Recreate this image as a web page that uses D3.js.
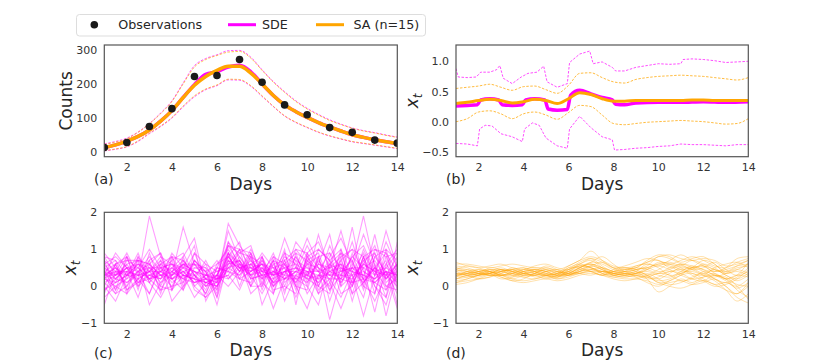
<!DOCTYPE html>
<html>
<head>
<meta charset="utf-8">
<script src="https://cdn.jsdelivr.net/npm/d3@7"></script>
<style>
  body { margin: 0; background: #fff; }
  svg { font-family: "DejaVu Sans", sans-serif; }
</style>
</head>
<body>
<div id="chart"></div>
<script>
// ---- data ----
var obsDays = [1, 2, 3, 4, 5, 6, 7, 8, 9, 10, 11, 12, 13, 14];
var obsCounts = [12, 27, 74, 127, 222, 225, 272, 205, 138, 109, 71, 57, 34, 25];

var halfDays = [1, 1.5, 2, 2.5, 3, 3.5, 4, 4.5, 5, 5.5, 6, 6.5, 7, 7.5, 8, 8.5, 9, 9.5, 10, 10.5, 11, 11.5, 12, 12.5, 13, 13.5, 14];

// panel (a): counts
var saMeanA  = [12, 20, 31, 45, 64, 90, 121, 160, 196, 222, 240, 252, 252, 232, 200, 166, 138, 118, 101, 86, 73, 61, 50, 42, 35, 29, 24];
var sdeMeanA = [12, 20, 31, 45, 64, 90, 121, 160, 198, 228, 236, 250, 255, 236, 200, 166, 138, 118, 101, 86, 73, 61, 50, 42, 35, 29, 24];
var saUpperA  = [21, 28, 38, 57, 82, 112, 148, 200, 250, 272, 284, 294, 296, 276, 240, 205, 175, 148, 126, 108, 92, 80, 69, 61, 55, 48, 42];
var sdeUpperA = [23, 30, 40, 58, 83, 114, 150, 203, 254, 275, 286, 298, 299, 279, 242, 207, 177, 150, 128, 110, 94, 81, 70, 62, 56, 49, 43];
var saLowerA  = [3, 8, 15, 32, 55, 76, 101, 135, 165, 185, 197, 214, 213, 195, 165, 134, 106, 87, 72, 58, 47, 38, 30, 25, 20, 15, 10];
var sdeLowerA = [2, 7, 14, 30, 53, 74, 99, 132, 162, 183, 195, 212, 211, 193, 163, 133, 105, 86, 71, 57, 46, 37, 29, 24, 19, 14, 9];

// panel (b): x_t summaries
var saMeanB  = [0.30, 0.32, 0.35, 0.37, 0.35, 0.31, 0.33, 0.37, 0.35, 0.30, 0.38, 0.48, 0.45, 0.38, 0.34, 0.34, 0.35, 0.35, 0.35, 0.35, 0.35, 0.36, 0.36, 0.35, 0.35, 0.35, 0.35];
var saUpperB = [0.55, 0.57, 0.59, 0.62, 0.57, 0.52, 0.58, 0.59, 0.53, 0.47, 0.60, 0.80, 0.81, 0.73, 0.66, 0.64, 0.70, 0.73, 0.75, 0.76, 0.77, 0.76, 0.75, 0.73, 0.71, 0.69, 0.73];
var saLowerB = [0.00, 0.05, 0.16, 0.18, 0.13, 0.05, 0.13, 0.16, 0.11, 0.04, 0.15, 0.27, 0.25, 0.11, -0.03, -0.05, -0.03, -0.01, 0.00, 0.01, 0.02, 0.01, 0.00, -0.02, -0.04, -0.03, 0.05];

var sdeMeanBT = [1, 1.5, 1.95, 2.1, 2.5, 2.9, 3.05, 3.5, 3.95, 4.1, 4.5, 4.95, 5.1, 5.5, 5.95, 6.1, 6.5, 7, 7.5, 7.95, 8.1, 8.5, 9, 10, 11, 12, 13, 14];
var sdeMeanB  = [0.26, 0.27, 0.28, 0.36, 0.38, 0.36, 0.28, 0.27, 0.28, 0.36, 0.38, 0.36, 0.21, 0.19, 0.20, 0.44, 0.52, 0.46, 0.40, 0.36, 0.29, 0.28, 0.31, 0.32, 0.32, 0.33, 0.32, 0.33];

var sdeUpperBT = [1, 1.1, 1.5, 1.9, 2.1, 2.5, 2.8, 2.95, 3.1, 3.5, 3.9, 4.2, 4.6, 4.9, 5.05, 5.5, 5.95, 6.05, 6.5, 6.95, 7.1, 7.5, 7.95, 8.1, 8.5, 9, 9.5, 10, 10.5, 11, 11.1, 11.5, 12, 12.5, 13, 13.5, 14];
var sdeUpperB  = [0.88, 0.74, 0.73, 0.74, 0.82, 0.82, 0.86, 0.93, 0.72, 0.63, 0.74, 0.80, 0.82, 0.92, 0.66, 0.57, 0.63, 0.98, 1.12, 1.17, 0.96, 0.99, 0.90, 0.84, 0.84, 0.90, 0.93, 0.96, 0.95, 0.96, 1.03, 1.04, 1.03, 1.01, 0.98, 0.99, 1.00];
var sdeLowerBT = [1, 1.5, 1.95, 2.05, 2.3, 2.6, 3, 3.5, 3.95, 4.05, 4.4, 4.7, 5, 5.5, 5.95, 6.05, 6.5, 7, 7.5, 7.95, 8.05, 8.5, 9, 9.5, 10, 10.5, 11, 11.5, 12, 12.5, 13, 13.5, 14];
var sdeLowerB  = [-0.36, -0.37, -0.40, -0.12, -0.06, -0.07, -0.20, -0.25, -0.33, -0.12, -0.02, -0.06, -0.27, -0.40, -0.44, -0.12, 0.09, -0.10, -0.25, -0.30, -0.47, -0.46, -0.44, -0.43, -0.41, -0.40, -0.37, -0.38, -0.38, -0.39, -0.40, -0.38, -0.38];

// panel (c): SDE sample paths (values at halfDays)
var sdePaths = [
  [0.3,0.5,0.2,0.4,0.6,0.3,0.2,0.5,0.4,0.1,0.0,0.7,0.5,0.6,0.3,0.4,0.2,0.5,0.3,0.6,0.4,0.2,0.5,0.3,0.1,0.4,0.3],
  [0.1,-0.2,0.4,0.3,0.1,0.4,0.5,0.2,0.6,0.2,-0.1,0.9,0.6,0.3,0.5,0.1,0.4,0.8,0.2,0.0,0.6,0.9,0.1,0.5,0.7,0.2,0.6],
  [0.6,0.8,0.5,0.2,0.4,0.7,0.3,0.4,0.1,0.3,0.4,0.5,0.3,0.8,0.1,-0.2,0.6,0.1,0.7,0.4,-0.1,0.3,0.8,1.1,0.4,0.0,0.2],
  [-0.1,0.2,0.6,0.7,0.2,-0.1,0.4,0.7,0.3,0.0,0.3,1.2,0.8,0.4,0.6,0.5,-0.1,0.3,0.9,1.2,0.5,0.6,-0.2,0.1,0.5,0.9,0.4],
  [0.4,0.1,0.3,0.5,1.0,0.5,0.6,0.1,0.7,0.4,-0.3,0.6,1.0,0.5,0.2,0.7,0.5,-0.3,0.4,0.1,0.8,1.3,0.6,0.2,-0.4,0.3,0.8],
  [0.2,0.6,-0.1,0.1,0.3,0.2,0.9,0.5,0.2,-0.2,0.5,0.4,0.2,0.1,0.7,0.3,0.8,0.6,-0.2,0.3,0.2,-0.3,0.4,0.9,0.3,1.2,0.5],
  [0.5,0.3,0.8,0.4,-0.2,0.5,0.1,0.3,0.9,0.2,0.1,0.8,0.4,0.9,0.4,0.0,0.3,1.0,0.6,0.8,-0.4,0.5,0.3,-0.3,0.8,0.4,-0.2],
  [0.0,-0.4,0.3,0.6,0.5,0.1,0.3,0.6,0.0,0.3,0.2,1.5,0.7,0.2,0.3,0.9,0.1,0.4,1.1,0.5,0.3,0.7,1.0,0.4,0.2,0.6,1.0],
  [0.7,0.4,0.1,0.3,0.7,0.9,0.2,-0.1,0.5,0.5,0.2,0.3,-0.1,0.6,0.8,0.2,0.6,0.2,0.0,-0.5,0.6,0.1,0.5,1.4,0.6,-0.1,0.3],
  [0.3,0.9,0.5,0.0,0.3,0.4,0.7,0.9,0.3,-0.1,0.6,1.0,0.5,0.3,-0.2,0.4,0.9,0.7,0.5,0.2,1.1,0.4,0.7,0.0,1.0,0.8,0.1],
  [-0.3,0.0,0.2,0.8,0.4,0.0,-0.1,0.3,0.2,0.1,0.0,0.5,0.9,1.1,0.2,0.6,0.0,-0.2,0.7,0.9,0.1,-0.6,0.2,0.7,0.0,-0.5,0.5],
  [0.4,0.6,0.7,0.5,0.2,0.6,0.4,0.2,0.4,0.3,0.7,0.2,0.6,0.0,0.5,0.3,0.4,0.5,1.3,0.6,0.5,0.8,-0.4,0.6,0.4,0.5,0.9],
  [0.8,0.3,0.4,-0.3,0.6,0.3,0.5,0.8,1.3,0.0,0.1,1.7,1.1,0.7,0.3,-0.6,0.2,0.8,0.3,1.0,0.7,0.3,1.2,0.2,1.4,0.1,0.4],
  [0.2,0.0,-0.2,0.2,1.9,0.8,0.2,0.4,0.1,0.2,0.3,0.0,0.4,0.5,0.6,0.1,0.7,0.0,-0.6,0.3,0.0,1.0,0.3,-0.8,0.3,0.7,-0.5],
  [0.5,0.7,0.3,0.9,0.1,-0.3,0.3,1.6,0.6,0.4,-0.5,0.7,0.2,0.4,0.9,0.5,0.3,1.2,0.8,0.4,0.9,0.5,0.0,0.8,-0.2,1.0,0.7],
  [-0.5,0.4,0.9,0.3,0.4,0.6,-0.4,0.0,0.3,0.6,0.4,0.6,0.7,-0.2,0.1,0.7,-0.4,0.3,0.1,0.7,0.3,0.1,0.6,1.9,0.5,-0.3,1.2],
  [0.3,0.2,0.5,0.6,0.3,0.2,0.6,0.5,1.1,-0.4,0.2,0.4,0.3,0.6,0.2,0.4,0.5,0.6,0.4,-0.2,0.5,1.5,0.4,0.3,0.9,0.3,0.0],
  [0.9,0.5,0.0,0.4,0.8,0.4,0.8,0.3,0.2,0.7,0.1,0.9,0.0,0.8,-0.5,0.2,1.0,-0.5,0.9,0.5,-0.9,0.2,0.8,0.5,-0.7,0.6,0.2],
  [0.1,0.3,0.6,0.1,0.5,0.5,0.3,0.6,0.4,0.2,0.5,1.1,0.6,0.5,0.4,0.8,0.2,0.4,0.2,1.4,0.4,0.6,0.1,1.0,0.3,1.5,0.5],
  [0.4,-0.1,0.4,0.7,-0.5,0.1,0.5,0.3,-0.3,0.1,0.2,0.3,0.8,0.3,0.7,0.0,0.4,0.1,0.6,-0.1,0.2,0.2,1.6,0.1,0.6,-0.8,0.4],
  [0.2,0.4,0.3,0.3,0.4,0.8,0.6,0.4,0.5,0.4,0.6,0.8,0.4,1.0,0.4,0.5,0.6,0.9,0.1,0.6,1.4,0.0,0.3,0.6,1.1,0.2,0.6],
  [0.6,0.2,0.5,0.1,0.2,0.3,0.0,0.1,0.7,0.3,0.3,0.2,0.5,0.4,0.6,0.3,1.3,0.5,0.4,0.3,0.6,0.4,0.5,0.2,0.1,0.4,-0.6],
  [0.0,0.6,-0.2,0.8,0.1,0.7,-0.1,0.8,0.0,-0.3,0.3,1.1,0.9,0.8,0.6,-0.1,0.0,0.7,0.0,0.8,-0.1,0.7,0.0,0.8,0.1,-0.1,0.7],
  [0.7,-0.1,0.8,0.0,0.7,-0.2,0.8,0.0,0.7,0.4,-0.2,0.8,1.2,0.2,0.8,0.0,0.7,-0.1,0.8,0.0,0.7,1.0,-0.2,0.7,0.9,0.0,-0.1],
  [0.3,-0.2,0.0,0.7,0.6,0.9,-0.1,0.7,0.3,-0.2,0.5,0.4,1.0,0.9,0.0,0.7,-0.2,0.9,0.7,-0.2,0.1,0.9,0.7,-0.1,0.8,1.0,0.0],
  [-0.2,0.6,0.8,-0.1,0.9,0.0,0.7,-0.1,0.9,0.6,-0.1,1.2,0.5,0.0,0.8,-0.2,0.9,0.0,-0.1,0.8,0.9,0.0,0.9,0.0,-0.2,0.8,0.9],
  [0.8,0.7,-0.1,0.2,-0.2,0.6,0.8,0.7,-0.1,-0.3,0.0,0.9,0.2,0.9,-0.1,0.6,0.7,1.0,0.9,0.0,-0.2,0.8,1.0,0.8,0.0,-0.3,0.6],
  [-0.1,0.1,0.7,0.7,0.6,-0.1,0.0,0.6,0.6,0.5,-0.3,1.1,1.0,0.0,0.0,0.8,0.6,0.0,0.8,1.0,0.7,-0.2,0.0,0.8,1.0,0.9,-0.1],
  [0.3,0.5,0.3,0.2,0.4,0.4,0.2,0.4,0.3,0.1,0.3,0.9,0.5,0.6,0.5,0.1,0.2,0.4,0.5,0.4,0.3,0.3,0.2,0.6,0.4,0.3,0.4],
  [0.4,0.3,0.5,0.4,0.2,0.3,0.4,0.2,0.1,0.2,0.1,0.6,0.7,0.3,0.4,0.3,0.5,0.2,0.3,0.1,0.4,0.5,0.4,0.3,0.2,0.4,0.1],
  [0.2,0.1,0.3,0.6,0.4,0.2,0.4,0.6,0.4,0.3,0.2,0.5,0.6,0.4,0.6,0.4,0.3,0.3,0.4,0.4,0.5,0.2,0.1,0.2,0.5,0.2,0.5],
  [0.3,0.4,0.4,0.3,0.3,0.5,0.6,0.3,0.2,0.1,0.2,0.7,0.5,0.5,0.3,0.2,0.4,0.5,0.2,0.3,0.3,0.4,0.5,0.5,0.3,0.4,0.3],
  [0.5,0.2,0.1,0.4,0.5,0.3,0.3,0.5,0.6,0.2,0.0,0.5,0.7,0.2,0.3,0.4,0.2,0.2,0.6,0.5,0.2,0.6,0.4,0.1,0.5,0.3,0.6],
  [0.3,0.3,0.5,0.5,0.2,0.4,0.2,0.3,0.3,0.0,0.3,0.8,0.4,0.7,0.4,0.3,0.4,0.4,0.3,0.2,0.4,0.3,0.3,0.4,0.2,0.5,0.3]
];

// panel (d): SA sample paths (values at halfDays)
var saPaths = [
  [0.3,0.35,0.4,0.45,0.35,0.25,0.35,0.45,0.4,0.3,0.4,0.55,0.6,0.45,0.35,0.3,0.35,0.5,0.6,0.55,0.4,0.45,0.6,0.5,0.3,0.2,0.35],
  [0.5,0.45,0.35,0.3,0.4,0.45,0.35,0.3,0.4,0.45,0.35,0.4,0.5,0.35,0.25,0.3,0.4,0.3,0.1,0.15,0.3,0.5,0.4,0.2,0.0,-0.2,0.1],
  [0.2,0.25,0.35,0.4,0.3,0.35,0.45,0.4,0.3,0.25,0.45,0.65,0.75,0.55,0.4,0.45,0.5,0.65,0.7,0.5,0.55,0.7,0.6,0.45,0.4,0.55,0.7],
  [0.4,0.3,0.25,0.35,0.45,0.4,0.3,0.35,0.5,0.4,0.3,0.35,0.45,0.5,0.4,0.35,0.3,0.2,0.25,0.4,0.35,0.2,0.15,0.3,0.2,-0.1,-0.3],
  [0.25,0.4,0.45,0.35,0.2,0.25,0.4,0.45,0.35,0.3,0.35,0.5,0.65,0.6,0.45,0.4,0.45,0.55,0.8,0.75,0.6,0.45,0.5,0.65,0.45,0.3,0.5],
  [0.55,0.5,0.4,0.35,0.4,0.3,0.25,0.3,0.35,0.3,0.5,0.6,0.5,0.4,0.3,0.25,0.3,0.35,0.2,0.05,0.1,0.25,0.35,0.2,0.1,0.25,0.4],
  [0.15,0.2,0.3,0.35,0.25,0.15,0.2,0.35,0.45,0.35,0.3,0.45,0.55,0.65,0.5,0.35,0.4,0.6,0.5,0.3,0.35,0.5,0.7,0.6,0.35,0.45,0.6],
  [0.35,0.3,0.35,0.5,0.45,0.3,0.35,0.4,0.3,0.2,0.3,0.4,0.45,0.35,0.3,0.35,0.25,0.1,0.0,0.15,0.3,0.35,0.2,0.05,0.1,0.0,0.2],
  [0.45,0.55,0.5,0.4,0.3,0.4,0.5,0.4,0.25,0.35,0.55,0.7,0.95,0.7,0.5,0.45,0.5,0.7,0.85,0.8,0.65,0.75,0.8,0.6,0.4,0.5,0.55],
  [0.3,0.25,0.3,0.4,0.35,0.45,0.5,0.35,0.3,0.35,0.4,0.35,0.3,0.4,0.35,0.3,0.35,0.4,0.3,0.25,0.4,0.55,0.45,0.3,0.25,0.0,-0.35],
  [0.1,0.2,0.3,0.45,0.4,0.35,0.3,0.35,0.45,0.4,0.35,0.5,0.6,0.5,0.4,0.3,0.25,0.3,0.45,0.6,0.5,0.35,0.3,0.5,0.6,0.65,0.5],
  [0.4,0.45,0.4,0.3,0.35,0.5,0.4,0.25,0.3,0.25,0.35,0.45,0.4,0.3,0.45,0.5,0.4,0.2,-0.15,0.0,0.2,0.1,0.25,0.35,0.2,0.3,0.25],
  [0.35,0.3,0.2,0.25,0.4,0.45,0.35,0.4,0.55,0.45,0.3,0.4,0.55,0.45,0.35,0.4,0.55,0.6,0.55,0.7,0.85,0.7,0.55,0.4,0.5,0.75,0.8],
  [0.25,0.35,0.45,0.4,0.3,0.2,0.3,0.4,0.35,0.25,0.4,0.55,0.5,0.35,0.3,0.35,0.3,0.25,0.35,0.3,0.15,0.2,0.4,0.3,0.15,-0.05,0.1],
  [0.5,0.4,0.3,0.35,0.45,0.35,0.25,0.2,0.3,0.4,0.45,0.6,0.7,0.5,0.3,0.35,0.45,0.5,0.4,0.45,0.6,0.5,0.35,0.45,0.3,0.15,0.3],
  [0.2,0.3,0.4,0.45,0.45,0.4,0.4,0.45,0.4,0.3,0.3,0.4,0.45,0.4,0.4,0.45,0.5,0.45,0.35,0.4,0.45,0.3,0.15,0.0,0.05,0.2,0.45],
  [0.3,0.4,0.35,0.3,0.3,0.35,0.45,0.5,0.45,0.35,0.4,0.5,0.65,0.8,0.6,0.4,0.35,0.45,0.65,0.6,0.45,0.5,0.55,0.35,0.2,0.3,0.65],
  [0.45,0.35,0.3,0.4,0.5,0.4,0.35,0.3,0.2,0.3,0.5,0.5,0.4,0.3,0.4,0.5,0.45,0.3,0.2,0.35,0.5,0.45,0.3,0.15,-0.1,-0.4,-0.2],
  [0.1,0.15,0.2,0.25,0.3,0.2,0.15,0.2,0.25,0.2,0.25,0.35,0.4,0.3,0.2,0.15,0.2,0.25,0.1,0.0,-0.05,0.05,0.15,0.05,-0.1,-0.2,0.0],
  [0.6,0.6,0.55,0.5,0.55,0.6,0.55,0.5,0.5,0.45,0.55,0.7,0.8,0.7,0.55,0.5,0.55,0.65,0.8,0.85,0.75,0.7,0.75,0.7,0.55,0.6,0.7],
  [0.05,0.1,0.2,0.3,0.25,0.15,0.1,0.15,0.2,0.15,0.2,0.3,0.35,0.3,0.25,0.2,0.2,0.15,0.05,0.1,0.15,0.05,0.1,0.2,0.0,-0.3,-0.45],
  [0.65,0.55,0.5,0.55,0.6,0.5,0.45,0.55,0.6,0.5,0.45,0.6,0.75,0.65,0.5,0.55,0.65,0.75,0.7,0.6,0.7,0.8,0.7,0.55,0.5,0.65,0.75],
  [0.3,0.35,0.4,0.4,0.3,0.3,0.4,0.45,0.4,0.3,0.35,0.5,0.6,0.5,0.35,0.3,0.35,0.45,0.55,0.45,0.3,0.2,0.25,0.3,0.2,0.05,0.0],
  [0.2,0.3,0.35,0.3,0.3,0.35,0.35,0.3,0.3,0.35,0.45,0.55,0.5,0.4,0.35,0.4,0.45,0.5,0.6,0.65,0.55,0.5,0.55,0.45,0.35,0.4,0.3],
  [0.45,0.4,0.35,0.35,0.4,0.45,0.4,0.35,0.3,0.25,0.3,0.45,0.55,0.45,0.3,0.25,0.3,0.25,0.15,0.2,0.35,0.4,0.3,0.25,0.35,0.45,0.35],
  [0.35,0.35,0.3,0.35,0.45,0.4,0.3,0.3,0.4,0.4,0.35,0.35,0.4,0.4,0.35,0.4,0.35,0.3,0.35,0.5,0.6,0.55,0.45,0.4,0.45,0.55,0.6]
];

var xTicks = [2, 4, 6, 8, 10, 12, 14];
var aTicksY = [0, 100, 200, 300];
var bTicksY = [-0.5, 0.0, 0.5, 1.0];
var cdTicksY = [-1, 0, 1, 2];

var MAGENTA = "#ff00ff", ORANGE = "#ffa500";

// ---- layout ----
var W = 830, H = 362;
var svg = d3.select("#chart").append("svg")
    .attr("width", W)
    .attr("height", H);

function zip(xs, ys) { return xs.map(function (x, i) { return [x, ys[i]]; }); }

function makePanel(id, left, right, top, bottom, yDomain, yTicks, yFmt) {
    var x = d3.scaleLinear().domain([1, 14]).range([left, right]);
    var y = d3.scaleLinear().domain(yDomain).range([bottom, top]);

    svg.append("clipPath").attr("id", "clip-" + id)
        .append("rect")
        .attr("x", left).attr("y", top)
        .attr("width", right - left).attr("height", bottom - top);

    var g = svg.append("g").attr("clip-path", "url(#clip-" + id + ")");

    var xAxis = svg.append("g")
        .attr("transform", "translate(0," + bottom + ")")
        .call(d3.axisBottom(x).tickValues(xTicks).tickSize(0).tickPadding(7));
    var yAxis = svg.append("g")
        .attr("transform", "translate(" + left + ",0)")
        .call(d3.axisLeft(y).tickValues(yTicks).tickSize(0).tickPadding(7).tickFormat(yFmt));
    [xAxis, yAxis].forEach(function (ax) {
        ax.select(".domain").remove();
        ax.selectAll("text").attr("font-size", 11).attr("fill", "#333")
            .attr("font-family", "DejaVu Sans, sans-serif");
    });

    // frame drawn last so it sits on top
    var frame = function () {
        svg.append("rect")
            .attr("x", left).attr("y", top)
            .attr("width", right - left).attr("height", bottom - top)
            .attr("fill", "none").attr("stroke", "#555").attr("stroke-width", 1.2);
    };
    return { x: x, y: y, g: g, frame: frame, left: left, right: right, top: top, bottom: bottom };
}

function minus(s) { return s.replace("-", "\u2212"); }

var pa = makePanel("a", 104.3, 397.3, 45, 156.7, [-15, 315], aTicksY, d3.format("d"));
var pb = makePanel("b", 456, 748.3, 45, 156.7, [-0.58, 1.27], bTicksY, function (d) { return minus(d3.format(".1f")(d)); });
var pc = makePanel("c", 104.3, 397.3, 212.3, 323.3, [-1, 2], cdTicksY, function (d) { return minus(d3.format("d")(d)); });
var pd = makePanel("d", 456, 748.3, 212.3, 323.3, [-1, 2], cdTicksY, function (d) { return minus(d3.format("d")(d)); });

function lineFor(p, curve) {
    return d3.line()
        .x(function (d) { return p.x(d[0]); })
        .y(function (d) { return p.y(d[1]); })
        .curve(curve || d3.curveMonotoneX);
}

// ---- panel (a) ----
(function () {
    var ln = lineFor(pa);
    [[sdeUpperA, MAGENTA], [sdeLowerA, MAGENTA], [saUpperA, ORANGE], [saLowerA, ORANGE]].forEach(function (b) {
        pa.g.append("path").datum(zip(halfDays, b[0]))
            .attr("d", ln).attr("fill", "none")
            .attr("stroke", b[1]).attr("stroke-width", 0.9)
            .attr("stroke-opacity", 0.75)
            .attr("stroke-dasharray", "2.5,1.5");
    });
    pa.g.append("path").datum(zip(halfDays, sdeMeanA))
        .attr("d", ln).attr("fill", "none")
        .attr("stroke", MAGENTA).attr("stroke-width", 3.5);
    pa.g.append("path").datum(zip(halfDays, saMeanA))
        .attr("d", ln).attr("fill", "none")
        .attr("stroke", ORANGE).attr("stroke-width", 3.5);
    pa.g.selectAll(".obs")
        .data(zip(obsDays, obsCounts))
        .enter().append("circle")
        .attr("class", "obs")
        .attr("cx", function (d) { return pa.x(d[0]); })
        .attr("cy", function (d) { return pa.y(d[1]); })
        .attr("r", 3.8)
        .attr("fill", "#1a1a1a");
    pa.frame();
})();

// ---- panel (b) ----
(function () {
    var ln = lineFor(pb, d3.curveLinear);
    var sm = lineFor(pb, d3.curveMonotoneX);
    [[zip(sdeUpperBT, sdeUpperB), MAGENTA], [zip(sdeLowerBT, sdeLowerB), MAGENTA]].forEach(function (b) {
        pb.g.append("path").datum(b[0])
            .attr("d", ln).attr("fill", "none")
            .attr("stroke", b[1]).attr("stroke-width", 1)
            .attr("stroke-opacity", 0.7)
            .attr("stroke-dasharray", "2.5,1.5");
    });
    [saUpperB, saLowerB].forEach(function (b) {
        pb.g.append("path").datum(zip(halfDays, b))
            .attr("d", sm).attr("fill", "none")
            .attr("stroke", ORANGE).attr("stroke-width", 1)
            .attr("stroke-opacity", 0.75)
            .attr("stroke-dasharray", "2.5,1.5");
    });
    pb.g.append("path").datum(zip(sdeMeanBT, sdeMeanB))
        .attr("d", sm).attr("fill", "none")
        .attr("stroke", MAGENTA).attr("stroke-width", 3.5);
    pb.g.append("path").datum(zip(halfDays, saMeanB))
        .attr("d", sm).attr("fill", "none")
        .attr("stroke", ORANGE).attr("stroke-width", 3);
    pb.frame();
})();

// ---- panel (c) ----
(function () {
    var ln = lineFor(pc, d3.curveLinear);
    pc.g.selectAll(".sde")
        .data(sdePaths)
        .enter().append("path")
        .attr("class", "sde")
        .attr("d", function (p) { return ln(zip(halfDays, p)); })
        .attr("fill", "none")
        .attr("stroke", MAGENTA)
        .attr("stroke-width", 1.1)
        .attr("stroke-opacity", 0.38);
    pc.frame();
})();

// ---- panel (d) ----
(function () {
    var ln = lineFor(pd, d3.curveCatmullRom);
    pd.g.selectAll(".sa")
        .data(saPaths)
        .enter().append("path")
        .attr("class", "sa")
        .attr("d", function (p) { return ln(zip(halfDays, p)); })
        .attr("fill", "none")
        .attr("stroke", ORANGE)
        .attr("stroke-width", 1)
        .attr("stroke-opacity", 0.33);
    pd.frame();
})();

// ---- labels ----
function xLabel(p, baseline) {
    svg.append("text")
        .attr("x", (p.left + p.right) / 2).attr("y", baseline)
        .attr("text-anchor", "middle").attr("font-size", 17).attr("fill", "#262626")
        .text("Days");
}
xLabel(pa, 190); xLabel(pb, 190); xLabel(pc, 356); xLabel(pd, 356);

function panelTag(x, y, s) {
    svg.append("text").attr("x", x).attr("y", y)
        .attr("font-size", 14).attr("fill", "#262626").text(s);
}
panelTag(94, 184, "(a)"); panelTag(446, 184, "(b)");
panelTag(94, 358, "(c)"); panelTag(446, 358, "(d)");

svg.append("text")
    .attr("transform", "translate(72," + (pa.top + pa.bottom) / 2 + ") rotate(-90)")
    .attr("text-anchor", "middle").attr("font-size", 17).attr("fill", "#262626")
    .text("Counts");

function xtLabel(cx, cy) {
    var t = svg.append("text")
        .attr("transform", "translate(" + cx + "," + cy + ") rotate(-90)")
        .attr("text-anchor", "middle").attr("font-size", 17).attr("fill", "#262626");
    t.append("tspan").attr("font-style", "italic").text("x");
    t.append("tspan").attr("font-style", "italic").attr("font-size", 12).attr("dy", 4).text("t");
}
xtLabel(418, (pb.top + pb.bottom) / 2);
xtLabel(76, (pc.top + pc.bottom) / 2);
xtLabel(418, (pd.top + pd.bottom) / 2);

// ---- legend ----
var legend = svg.append("g");
legend.append("rect")
    .attr("x", 76.5).attr("y", 14.5).attr("width", 349).attr("height", 21.5)
    .attr("rx", 3).attr("fill", "#fff").attr("stroke", "#ddd").attr("stroke-width", 1);
legend.append("circle").attr("cx", 94.3).attr("cy", 24.7).attr("r", 3.8).attr("fill", "#1a1a1a");
legend.append("line").attr("x1", 228).attr("x2", 256).attr("y1", 24.7).attr("y2", 24.7)
    .attr("stroke", MAGENTA).attr("stroke-width", 3);
legend.append("line").attr("x1", 316).attr("x2", 344).attr("y1", 24.7).attr("y2", 24.7)
    .attr("stroke", ORANGE).attr("stroke-width", 3);
[[118.3, "Observations"], [262, "SDE"], [353.5, "SA (n=15)"]].forEach(function (d) {
    legend.append("text").attr("x", d[0]).attr("y", 29.3)
        .attr("font-size", 12.7).attr("fill", "#262626").text(d[1]);
});
</script>
</body>
</html>
